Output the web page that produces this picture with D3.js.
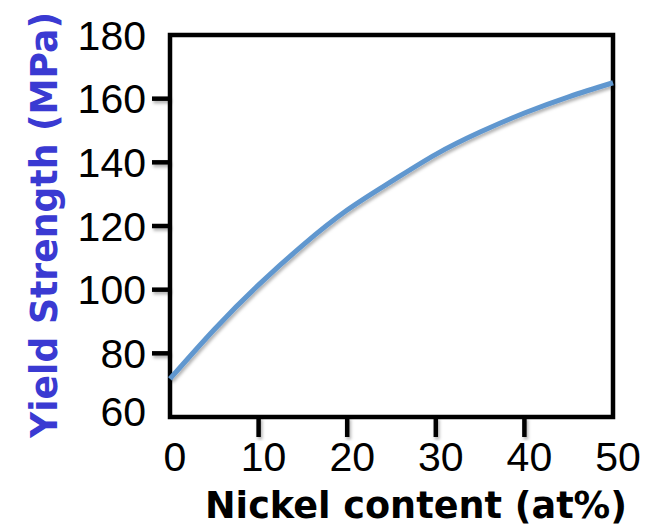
<!DOCTYPE html>
<html>
<head>
<meta charset="utf-8">
<script src="https://cdn.jsdelivr.net/npm/d3@7/dist/d3.min.js"></script>
<style>
  html, body { margin: 0; padding: 0; background: #ffffff; }
  svg { display: block; }
</style>
</head>
<body>
<svg id="chart" width="660" height="529"></svg>
<script>
// ---- data ----
const nickelContent = [0, 5, 10, 15, 20, 25, 30, 35, 40, 45, 50];
const yieldStrength = [72, 87.5, 101.5, 114, 125, 134, 142.5, 149.5, 155.5, 160.6, 165];
const xTickValues = [0, 10, 20, 30, 40, 50];
const yTickValues = [60, 80, 100, 120, 140, 160, 180];
const xTitle = "Nickel content (at%)";
const yTitle = "Yield Strength (MPa)";

(function () {
// ---- layout ----
const svg = d3.select("#chart");
const pL = 170, pR = 613, pT = 35, pB = 417;

const x = d3.scaleLinear().domain([0, 50]).range([pL, pR]);
const y = d3.scaleLinear().domain([60, 180]).range([pB, pT]);

const defs = svg.append("defs");
const f = defs.append("filter").attr("id", "shadow")
  .attr("x", "-20%").attr("y", "-20%").attr("width", "140%").attr("height", "140%");
f.append("feDropShadow").attr("dx", 1.5).attr("dy", 2.5).attr("stdDeviation", 1.8)
  .attr("flood-color", "#000").attr("flood-opacity", 0.3);

const numFont = "'Comic Sans MS', 'Liberation Sans', Arial, sans-serif";

const yTicksInner = yTickValues.filter(v => v !== 60 && v !== 180);
const xTicksInner = xTickValues.filter(v => v !== 0 && v !== 50);

svg.append("g").attr("filter", "url(#shadow)")
  .selectAll("line").data(yTicksInner).join("line")
  .attr("x1", pL - 18).attr("x2", pL)
  .attr("y1", d => y(d)).attr("y2", d => y(d))
  .attr("stroke", "#000").attr("stroke-width", 4.5);

svg.append("g").attr("filter", "url(#shadow)")
  .selectAll("line").data(xTicksInner).join("line")
  .attr("x1", d => x(d)).attr("x2", d => x(d))
  .attr("y1", pB).attr("y2", pB + 20)
  .attr("stroke", "#000").attr("stroke-width", 4.5);

// frame
svg.append("rect")
  .attr("x", pL).attr("y", pT)
  .attr("width", pR - pL).attr("height", pB - pT)
  .attr("fill", "none").attr("stroke", "#000").attr("stroke-width", 4.5);

// curve
const line = d3.line()
  .x((d, i) => x(nickelContent[i]))
  .y(d => y(d))
  .curve(d3.curveNatural);

svg.append("path")
  .datum(yieldStrength)
  .attr("d", line)
  .attr("fill", "none")
  .attr("stroke", "#6097cf")
  .attr("stroke-width", 5)
  .attr("filter", "url(#shadow)");

// y tick labels
svg.append("g").selectAll("text").data(yTickValues).join("text")
  .attr("x", 146)
  .attr("y", d => y(d) - (d === 60 ? 6 : 0))
  .attr("dy", "0.36em")
  .attr("text-anchor", "end")
  .attr("font-family", numFont)
  .attr("font-size", 41)
  .attr("fill", "#000")
  .text(d => d);

// x tick labels
svg.append("g").selectAll("text").data(xTickValues).join("text")
  .attr("x", d => x(d) + 5)
  .attr("y", 471)
  .attr("text-anchor", "middle")
  .attr("font-family", numFont)
  .attr("font-size", 41)
  .attr("fill", "#000")
  .text(d => d);

// x title
svg.append("text")
  .attr("x", 416).attr("y", 518)
  .attr("text-anchor", "middle")
  .attr("font-family", "'Comic Sans MS', 'DejaVu Sans', sans-serif")
  .attr("font-weight", "bold")
  .attr("font-size", 38)
  .attr("textLength", 422)
  .attr("lengthAdjust", "spacingAndGlyphs")
  .attr("fill", "#000")
  .text(xTitle);

// y title
svg.append("text")
  .attr("transform", "translate(57,225) rotate(-90)")
  .attr("text-anchor", "middle")
  .attr("font-family", "'Comic Sans MS', 'DejaVu Sans', sans-serif")
  .attr("font-weight", "bold")
  .attr("font-size", 37)
  .attr("textLength", 426)
  .attr("lengthAdjust", "spacingAndGlyphs")
  .attr("fill", "#3a3ad2")
  .text(yTitle);
})();
</script>
</body>
</html>
